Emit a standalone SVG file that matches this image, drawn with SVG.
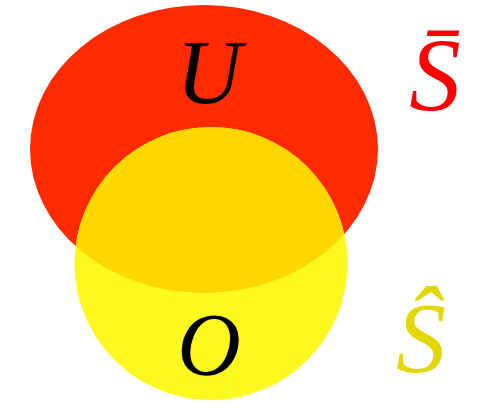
<svg xmlns="http://www.w3.org/2000/svg" width="479" height="416" viewBox="0 0 479 416">
<style>
.lbl{font-family:"Liberation Serif","Times New Roman",serif;font-style:italic;}
</style>
<defs>
<clipPath id="clipU"><ellipse cx="204" cy="149" rx="174" ry="144"/></clipPath>
</defs>
<rect width="479" height="416" fill="#ffffff"/>
<g id="U">
<ellipse cx="204" cy="149" rx="174" ry="144" fill="#FF2A00"/>
</g>
<g id="O">
<circle cx="211" cy="263.5" r="136.5" fill="#FFF820"/>
</g>
<g id="overlap">
<circle cx="211" cy="263.5" r="136.5" fill="#FFD700" clip-path="url(#clipU)"/>
</g>
<g id="labels">
<text class="lbl" x="209" y="103" font-size="90" text-anchor="middle">U</text>
<text class="lbl" x="209" y="374" font-size="88" text-anchor="middle">O</text>
<text class="lbl" x="435" y="110" font-size="103" text-anchor="middle" fill="#FF0000">S&#x304;</text>
<text class="lbl" x="421" y="371" font-size="100" text-anchor="middle" fill="#E0D800">&#x15C;</text>
</g>
<g id="connectors"/>
</svg>
